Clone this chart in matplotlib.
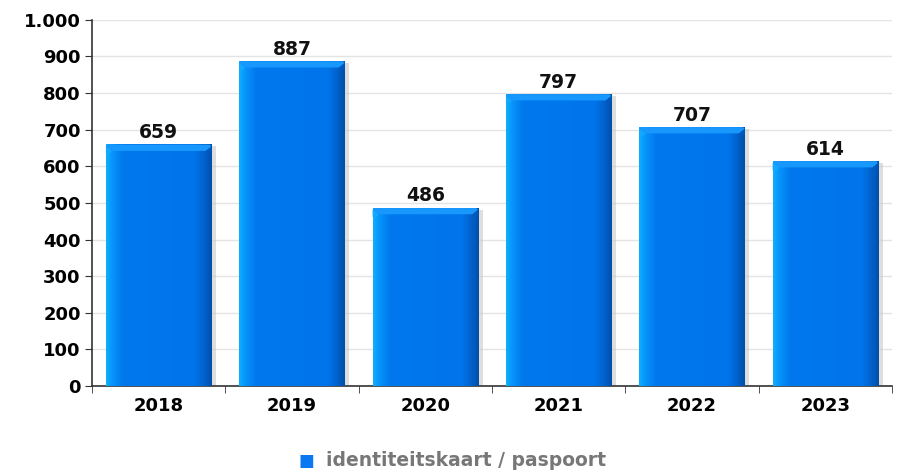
import numpy as np
import matplotlib
matplotlib.use("Agg")
import matplotlib.pyplot as plt
from matplotlib.colors import LinearSegmentedColormap
from matplotlib.patches import Polygon

years = ['2018', '2019', '2020', '2021', '2022', '2023']
values = [659, 887, 486, 797, 707, 614]
series_name = 'identiteitskaart / paspoort'

plt.rcParams.update({'font.family': 'DejaVu Sans', 'font.weight': 'bold', 'font.size': 13})

fig = plt.figure(figsize=(9.01, 4.73), dpi=100)
ax = fig.add_axes([0.102, 0.184, 0.888, 0.774])

x = np.arange(len(years))
w = 0.79

# gradient across the bar, light cyan on the left, dark blue on the right
grad = LinearSegmentedColormap.from_list('bar', [
    (0.0, '#0cb0ff'), (0.05, '#0896fa'), (0.16, '#0078ee'),
    (0.84, '#0075eb'), (0.93, '#0062cc'), (1.0, '#0050aa')])
g = np.linspace(0, 1, 200).reshape(1, -1)

cap = 17
dx = 0.04
for xi, v in zip(x, values):
    l, r = xi - w / 2, xi + w / 2
    # soft shadow right of the bar
    ax.bar(xi + 0.035, v - 4, width=w, bottom=0, color='#c8c8c8', alpha=0.6, zorder=2)
    ax.imshow(g, cmap=grad, aspect='auto', extent=(l, r, 0, v),
              zorder=3, interpolation='bilinear')
    # bevelled top
    ax.add_patch(Polygon([(l, v - 5), (l + 0.012, v), (r - 0.012, v), (r, v - 5),
                          (r - dx, v - cap), (l + dx, v - cap)],
                         closed=True, color='#1898fd', zorder=4, lw=0))
    ax.add_patch(Polygon([(r, v - 5), (r, v - cap - 8), (r - dx, v - cap - 4), (r - dx, v - cap)],
                         closed=True, color='#0058bb', zorder=4, lw=0))
    ax.add_patch(Polygon([(l, v - 5), (l + dx, v - cap), (l + dx, v - cap - 4), (l, v - cap - 8)],
                         closed=True, color='#12aaff', zorder=4, lw=0))
    ax.text(xi, v + 7, str(v), ha='center', va='bottom', fontsize=13.5, fontweight='bold',
            color='#111111', zorder=5)

ax.set_xlim(-0.5, len(years) - 0.5)
ax.set_ylim(0, 1000)
ax.set_yticks(np.arange(0, 1001, 100))
ax.set_yticklabels([f'{t:,}'.replace(',', '.') for t in range(0, 1001, 100)])
ax.set_xticks(x)
ax.set_xticklabels(years)
ax.set_xticks(np.arange(-0.5, len(years)), minor=True)
ax.tick_params(axis='x', which='major', length=0, pad=8)
ax.tick_params(axis='x', which='minor', length=5, color='#333333')
ax.tick_params(axis='y', length=5, color='#333333', pad=3)
ax.grid(axis='y', color='#e4e4e4', lw=1, zorder=0)
ax.set_axisbelow(True)
for s in ['top', 'right']:
    ax.spines[s].set_visible(False)
for s in ['left', 'bottom']:
    ax.spines[s].set_color('#333333')
    ax.spines[s].set_linewidth(1.2)

fig.text(0.34, 0.026, '\u25A0', color='#0a78f0', fontsize=12, ha='center', va='center')
fig.text(0.362, 0.026, series_name, color='#777777', fontsize=13.5, fontweight='bold',
         ha='left', va='center')

fig.savefig('out.png', dpi=100)
